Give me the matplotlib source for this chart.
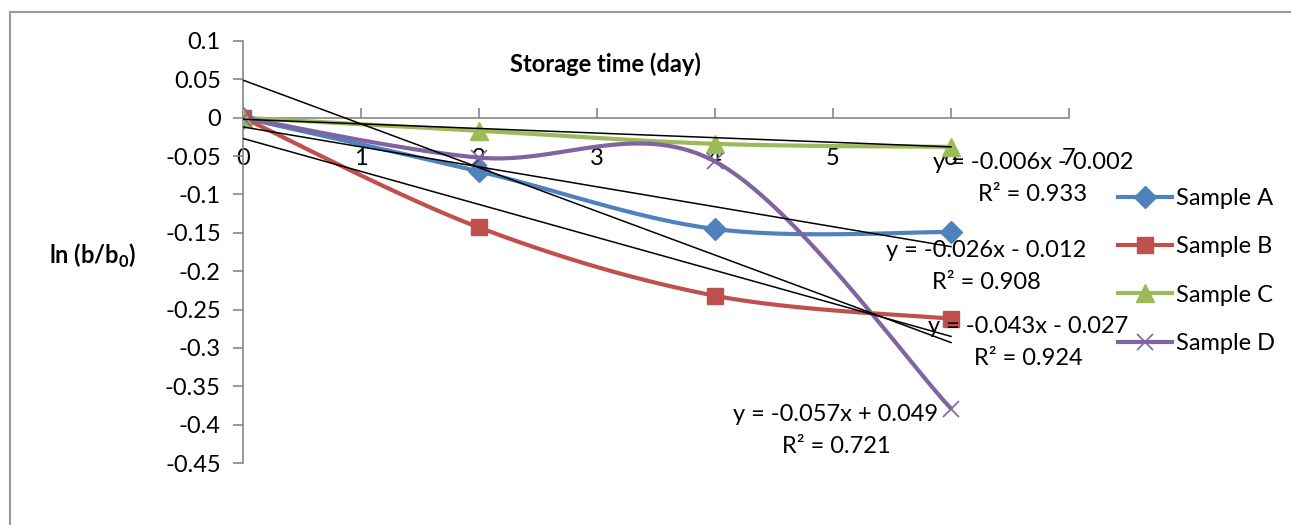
import numpy as np
import matplotlib
matplotlib.use("Agg")
import matplotlib.pyplot as plt
from matplotlib.lines import Line2D

plt.rcParams['font.family'] = ['Lato', 'DejaVu Sans']
plt.rcParams['mathtext.fontset'] = 'custom'
plt.rcParams['mathtext.rm'] = 'Lato'
plt.rcParams['mathtext.bf'] = 'Lato:bold'

# storage time (days) and ln(b/b0) per sample
days = [0, 2, 4, 6]
sample_a = [0, -0.070, -0.145, -0.149]
sample_b = [0, -0.143, -0.232, -0.262]
sample_c = [0, -0.017, -0.034, -0.038]
sample_d = [0, -0.052, -0.057, -0.379]

# linear trendline coefficients (slope, intercept) and R^2
trend_a = (-0.026, -0.012, 0.908)
trend_b = (-0.043, -0.027, 0.924)
trend_c = (-0.006, -0.002, 0.933)
trend_d = (-0.057, 0.049, 0.721)

names = ['Sample A', 'Sample B', 'Sample C', 'Sample D']
colors = ['#4F81BD', '#C0504D', '#9BBB59', '#8064A2']
markers = ['D', 's', '^', 'x']
msizes = [11, 12, 13, 12]

y_ticks = [0.1, 0.05, 0, -0.05, -0.1, -0.15, -0.2, -0.25, -0.3, -0.35, -0.4, -0.45]
x_ticks = [0, 1, 2, 3, 4, 5, 6, 7]


def smooth(xs, ys, n=40):
    # Catmull-Rom style cubic Bezier through every point (spreadsheet "smoothed line")
    p = np.column_stack([xs, ys]).astype(float)
    ext = np.vstack([p[0], p, p[-1]])
    out = []
    t = np.linspace(0, 1, n)[:, None]
    for i in range(len(p) - 1):
        p0, p1, p2, p3 = ext[i], ext[i + 1], ext[i + 2], ext[i + 3]
        c1 = p1 + (p2 - p0) / 6
        c2 = p2 - (p3 - p1) / 6
        seg = ((1 - t) ** 3) * p1 + 3 * ((1 - t) ** 2) * t * c1 + 3 * (1 - t) * t ** 2 * c2 + t ** 3 * p2
        out.append(seg if i == 0 else seg[1:])
    out = np.vstack(out)
    return out[:, 0], out[:, 1]


fig = plt.figure(figsize=(12.91, 5.25), dpi=100)
ax = fig.add_axes([243 / 1291, 62 / 525, 826 / 1291, 422 / 525])

series = [sample_a, sample_b, sample_c, sample_d]
handles = []
for vals, name, col, mk, ms in zip(series, names, colors, markers, msizes):
    sx, sy = smooth(days, vals)
    ax.plot(sx, sy, color=col, lw=3, solid_capstyle='round', zorder=3)
    mew = 1.2 if mk == 'x' else 1
    ax.plot(days, vals, ls='none', marker=mk, ms=ms, mew=mew, color=col, mec=col, zorder=4)
    handles.append(Line2D([], [], color=col, lw=3, marker=mk, ms=ms, mew=mew, mec=col))

# trendlines over the 0-6 day range
tx = np.array([days[0], days[-1]])
for slope, icpt, r2 in [trend_a, trend_b, trend_c, trend_d]:
    ax.plot(tx, slope * tx + icpt, color='black', lw=1.1, zorder=5)


def eq_text(slope, icpt):
    sign = '+' if icpt >= 0 else '-'
    return f'y = {slope:.3f}x {sign} {abs(icpt):.3f}'


fs = 17
lab_c = (6.695, -0.0584)
lab_a = (6.297, -0.1727)
lab_b = (6.653, -0.2727)
lab_d = (5.025, -0.387)
for (slope, icpt, r2), (lx, ly) in zip([trend_c, trend_a, trend_b, trend_d],
                                       [lab_c, lab_a, lab_b, lab_d]):
    ax.text(lx, ly, eq_text(slope, icpt), ha='center', va='center', fontsize=fs, zorder=6)
    ax.text(lx, ly - 0.0416, f'R² = {r2:.3f}', ha='center', va='center', fontsize=fs, zorder=6)

ax.set_xlim(0, 7)
ax.set_ylim(-0.45, 0.1)
ax.set_xticks(x_ticks)
ax.set_xticklabels([str(v) for v in x_ticks])
ax.set_yticks(y_ticks)
ax.set_yticklabels([f'{v:g}' for v in y_ticks])

for side in ['top', 'right']:
    ax.spines[side].set_visible(False)
ax.spines['bottom'].set_position(('data', 0))
for side in ['left', 'bottom']:
    ax.spines[side].set_color('#888888')
    ax.spines[side].set_linewidth(1.2)
ax.tick_params(axis='x', direction='in', length=7, width=1.2, color='#888888', pad=22, labelsize=fs)
ax.tick_params(axis='y', direction='out', length=7, width=1.2, color='#888888', pad=9, labelsize=fs)

ax.text(3.07, 0.0701, 'Storage time (day)', ha='center', va='center', fontsize=fs, fontweight='bold')
fig.text(93 / 1291, 1 - 256 / 525, r'ln (b/b$_\mathbf{0}$)', ha='center', va='center',
         fontsize=fs, fontweight='bold')

ax.legend(handles, names, loc='center left', bbox_to_anchor=(1118 / 1291, 1 - 271 / 525),
          bbox_transform=fig.transFigure, frameon=False, fontsize=fs,
          handlelength=2.3, handletextpad=0.17, labelspacing=1.16, borderpad=0,
          borderaxespad=0)

# outer chart frame
fig.add_artist(Line2D([10 / 1291, 1], [1 - 12 / 525, 1 - 12 / 525], color='#999999', lw=1.5))
fig.add_artist(Line2D([10 / 1291, 10 / 1291], [0, 1 - 12 / 525], color='#999999', lw=1.5))

fig.savefig('out.png', dpi=100)
